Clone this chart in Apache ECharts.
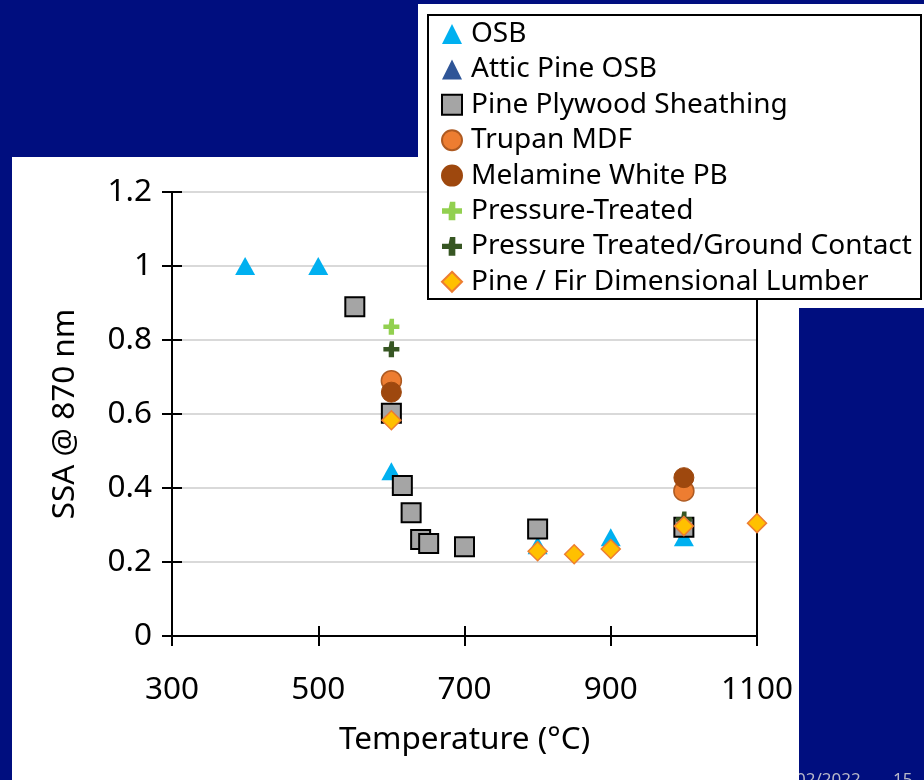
<!DOCTYPE html>
<html>
<head>
<meta charset="utf-8">
<script src="https://cdn.jsdelivr.net/npm/echarts@6/dist/echarts.min.js"></script>
<style>
  html, body { margin: 0; padding: 0; background: #000e7f; }
  #chart { width: 924px; height: 780px; }
</style>
</head>
<body>
<div id="chart"></div>
<script>
// Single scattering albedo at 870 nm versus combustion temperature, by material
const seriesNames = [
  'OSB',
  'Attic Pine OSB',
  'Pine Plywood Sheathing',
  'Trupan MDF',
  'Melamine White PB',
  'Pressure-Treated',
  'Pressure Treated/Ground Contact',
  'Pine / Fir Dimensional Lumber'
];

const osbTemp = [400, 500, 600, 800, 900, 1000];
const osbSSA = [1.0, 1.0, 0.445, 0.245, 0.267, 0.267];

const atticTemp = [];
const atticSSA = [];

const plywoodTemp = [550, 600, 615, 627, 640, 651, 700, 800, 1000];
const plywoodSSA = [0.89, 0.602, 0.407, 0.333, 0.261, 0.25, 0.241, 0.289, 0.294];

const mdfTemp = [600, 1000];
const mdfSSA = [0.69, 0.392];

const melamineTemp = [600, 1000];
const melamineSSA = [0.659, 0.428];

const ptTemp = [600];
const ptSSA = [0.836];

const ptgcTemp = [600, 1000];
const ptgcSSA = [0.775, 0.315];

const lumberTemp = [600, 800, 850, 900, 1000, 1100];
const lumberSSA = [0.583, 0.229, 0.221, 0.235, 0.297, 0.305];

const xTicks = [300, 500, 700, 900, 1100];
const yTicks = [0, 0.2, 0.4, 0.6, 0.8, 1, 1.2];

const FONT = 'Noto Sans';
const AXIS_FONT_SIZE = 31.5;
const PLUS = 'path://M5,0h4v5h5v4h-5v5h-5v-5h-5v-4h5z';

function pairs(xs, ys) {
  return xs.map((x, i) => [x, ys[i]]);
}

function scatter(name, xs, ys, symbol, size, style) {
  return {
    name: name,
    type: 'scatter',
    z: 6,
    xAxisIndex: 0,
    yAxisIndex: 0,
    data: pairs(xs, ys),
    symbol: symbol,
    symbolSize: size,
    itemStyle: Object.assign({ opacity: 1 }, style),
    emphasis: { disabled: true },
    silent: true
  };
}

const series = [
  scatter(seriesNames[0], osbTemp, osbSSA, 'triangle', [20, 18], { color: '#00b0f0' }),
  scatter(seriesNames[1], atticTemp, atticSSA, 'triangle', [20, 18], { color: '#2f5597' }),
  scatter(seriesNames[2], plywoodTemp, plywoodSSA, 'rect', 19, { color: '#a5a5a5', borderColor: '#000000', borderWidth: 2 }),
  scatter(seriesNames[3], mdfTemp, mdfSSA, 'circle', 20, { color: '#ed7d31', borderColor: '#ae5a21', borderWidth: 1.5 }),
  scatter(seriesNames[4], melamineTemp, melamineSSA, 'circle', 20, { color: '#9e480e', borderColor: '#9e480e', borderWidth: 1 }),
  scatter(seriesNames[5], ptTemp, ptSSA, PLUS, 16, { color: '#92d050' }),
  scatter(seriesNames[6], ptgcTemp, ptgcSSA, PLUS, 16, { color: '#375623' }),
  scatter(seriesNames[7], lumberTemp, lumberSSA, 'diamond', 19, { color: '#ffc000', borderColor: '#ed7d31', borderWidth: 1.5 })
];

const legendIcons = ['triangle', 'triangle', 'rect', 'circle', 'circle', PLUS, PLUS, 'diamond'];

const axisLine = { show: true, lineStyle: { color: '#000000', width: 2 } };
const tickStyle = { color: '#000000', width: 2 };
const axisText = { fontFamily: FONT, fontSize: AXIS_FONT_SIZE, color: '#000000' };

const chart = echarts.init(document.getElementById('chart'), null, { renderer: 'canvas' });

chart.setOption({
  backgroundColor: '#000e7f',
  animation: false,
  textStyle: { fontFamily: FONT },
  graphic: [
    {
      type: 'text', z: -20, left: 796, top: 772,
      style: { text: '02/2022', fill: '#b8b8c8', font: '17px "Noto Sans"' }
    },
    {
      type: 'text', z: -20, left: 893, top: 772,
      style: { text: '15', fill: '#b8b8c8', font: '17px "Noto Sans"' }
    },
    {
      type: 'rect', z: -10, silent: true,
      shape: { x: 12, y: 157, width: 787, height: 630 },
      style: { fill: '#ffffff' }
    },
    {
      type: 'rect', z: -10, silent: true,
      shape: { x: 418, y: 4, width: 510, height: 304 },
      style: { fill: '#ffffff' }
    },
    {
      type: 'rect', z: 8, silent: true,
      shape: { x: 428, y: 15, width: 493, height: 284 },
      style: { fill: '#ffffff', stroke: '#000000', lineWidth: 2 }
    }
  ],
  legend: {
    z: 10,
    orient: 'vertical',
    left: 436,
    top: 14,
    itemWidth: 20,
    itemHeight: 20,
    itemGap: 5.4,
    selectedMode: false,
    data: seriesNames.map((n, i) => ({ name: n, icon: legendIcons[i] })),
    textStyle: {
      fontFamily: FONT,
      fontSize: 28,
      lineHeight: 30,
      color: '#000000',
      padding: [0, 0, 0, 4]
    }
  },
  grid: { left: 172, right: 167, top: 192, bottom: 144, containLabel: false },
  xAxis: [
    {
      type: 'value', position: 'bottom', z: 3,
      min: 300, max: 1100, interval: 200,
      name: 'Temperature (°C)', nameLocation: 'middle', nameGap: 88,
      nameTextStyle: axisText,
      axisLine: axisLine,
      axisTick: { show: true, inside: false, length: 10, lineStyle: tickStyle },
      axisLabel: Object.assign({ margin: 38,
        formatter: v => String(xTicks.find(t => t === v) ?? v) }, axisText),
      splitLine: { show: false }
    },
    {
      type: 'value', position: 'bottom', z: 3,
      min: 300, max: 1100, interval: 200,
      axisLine: { show: false },
      axisTick: { show: true, inside: true, length: 10, lineStyle: tickStyle },
      axisLabel: { show: false },
      splitLine: { show: false }
    },
    {
      type: 'value', position: 'top', z: 3,
      min: 300, max: 1100, interval: 200,
      axisLine: axisLine,
      axisTick: { show: false },
      axisLabel: { show: false },
      splitLine: { show: false }
    }
  ],
  yAxis: [
    {
      type: 'value', position: 'left', z: 3,
      min: 0, max: 1.2, interval: 0.2,
      name: 'SSA @ 870 nm', nameLocation: 'middle', nameGap: 91,
      nameTextStyle: axisText,
      axisLine: axisLine,
      axisTick: { show: true, inside: false, length: 10, lineStyle: tickStyle },
      axisLabel: Object.assign({ margin: 20,
        formatter: v => String(yTicks.find(t => Math.abs(t - v) < 1e-9) ?? v) }, axisText),
      splitLine: { show: true, lineStyle: { color: '#d9d9d9', width: 2 } }
    },
    {
      type: 'value', position: 'left', z: 3,
      min: 0, max: 1.2, interval: 0.2,
      axisLine: { show: false },
      axisTick: { show: true, inside: true, length: 10, lineStyle: tickStyle },
      axisLabel: { show: false },
      splitLine: { show: false }
    },
    {
      type: 'value', position: 'right', z: 3,
      min: 0, max: 1.2, interval: 0.2,
      axisLine: axisLine,
      axisTick: { show: false },
      axisLabel: { show: false },
      splitLine: { show: false }
    }
  ],
  series: series
});
</script>
</body>
</html>
